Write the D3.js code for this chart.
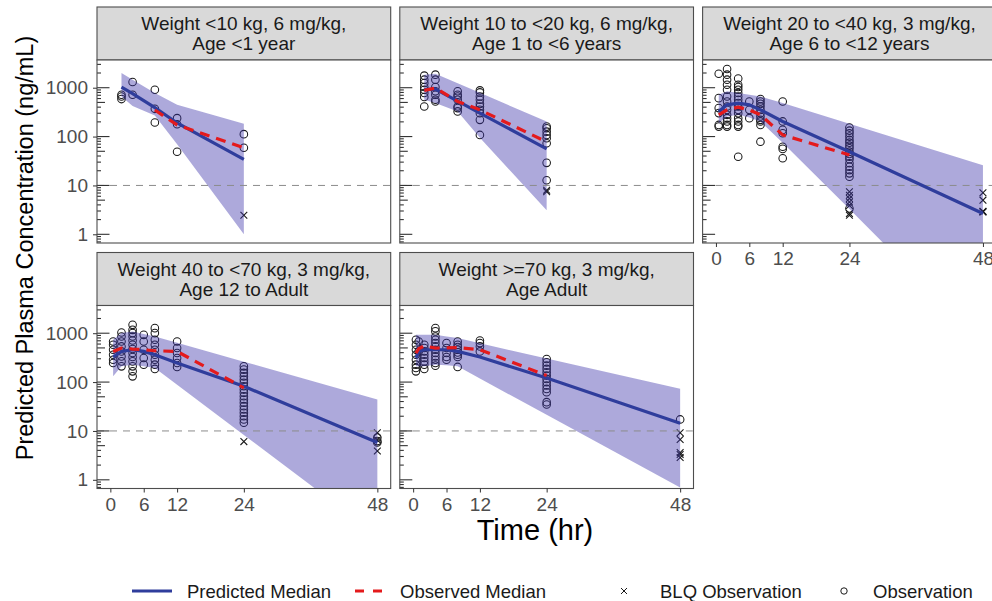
<!DOCTYPE html>
<html><head><meta charset="utf-8">
<script src="https://cdn.jsdelivr.net/npm/d3@7"></script>
<style>
html,body{margin:0;padding:0;background:#fff;}
svg{display:block;font-family:"Liberation Sans",Arial,Helvetica,sans-serif;}
</style></head>
<body><svg id="c" width="992" height="601"></svg>
<script>
// ---- Data ----
const titles = [
  ["Weight <10 kg, 6 mg/kg,", "Age <1 year"],
  ["Weight 10 to <20 kg, 6 mg/kg,", "Age 1 to <6 years"],
  ["Weight 20 to <40 kg, 3 mg/kg,", "Age 6 to <12 years"],
  ["Weight 40 to <70 kg, 3 mg/kg,", "Age 12 to Adult"],
  ["Weight >=70 kg, 3 mg/kg,", "Age Adult"]
];
const xTicks = [0, 6, 12, 24, 48];
const yTicks = [1, 10, 100, 1000];
const blqLimit = 10;
const legendLabels = ["Predicted Median", "Observed Median", "BLQ Observation", "Observation"];
const xTitle = "Time (hr)";
const yTitle = "Predicted Plasma Concentration (ng/mL)";

// predicted: [time, median, lower, upper]
const pred1 = [[2,1030,660,2000],[4,760,420,1460],[8,390,270,780],[12,190,70,447],[24,34,1.0,182]];
const pred2 = [[2,910,566,1850],[4,935,484,1930],[8,532,327,1240],[12,303,95,785],[24,56,3.1,204]];
const pred3 = [[0.5,326,188,718],[2,447,257,845],[4,484,279,778],[6,447,245,720],[8,352,204,662],[12,204,75,487],[24,49,3.28,183],[48,2.66,0.006,26]];
const pred4 = [[0.5,326,131,735],[2,424,210,1004],[4,459,227,1090],[6,424,210,960],[8,363,195,857],[12,246,88,640],[24,82,8.3,262],[48,5.8,0.073,44]];
const pred5 = [[0.5,311,210,927],[1,424,210,927],[2,459,210,927],[4,459,227,927],[6,459,220,860],[8,424,210,795],[12,326,118,620],[24,121,21.4,305],[48,14.3,0.7,73]];

// observed median: [time, value]
const obsMed1 = [[8,350],[12,173],[24,59]];
const obsMed2 = [[2,880],[4,982],[8,523],[12,352],[24,78]];
const obsMed3 = [[0.5,279],[2,352],[4,400],[6,350],[8,279],[12,108],[24,42]];
const obsMed4 = [[0.5,424],[2,497],[4,474],[6,459],[8,437],[12,424],[24,76]];
const obsMed5 = [[0.5,393],[1,480],[2,551],[4,497],[6,500],[8,510],[12,459],[24,136]];

// observations: [time, [values]]
const obs1 = [[2,[718,662,586]],[4,[1309,718]],[8,[910,370,194]],[12,[238,179,49]],[24,[112,59]]];
const obs2 = [[2,[1763,1459,1248,1033,910,778,644,413]],[4,[1850,1459,1033,845,718,566,523]],[8,[845,718,662,566,413,383,327]],[12,[880,800,662,566,467,413,352,301,220,108]],[24,[160,148,126,108,92.5,73,29,12.8]]];
const obs3 = [[0.5,[1930,612,383,302,173,160]],[2,[2420,1850,1459,1147,910,662,523,413,352,279,238,204,173,160]],[4,[1540,1147,1033,910,778,662,566,484,413,352,301,238,204,173,160,38.7]],[6,[523,352,238]],[8,[586,523,467,413,352,301,257,220,204,173,78.6]],[12,[523,204,137,117,62,56,36]],[24,[153,132,117,99.8,85.4,75,65.2,57.6,49.1,44,38.8,34.3,28.4,24.2,20.6,17.7,15.1,3.37]]];
const obs4 = [[0.5,[678,581,459,363,287,246]],[2,[1033,857,678,536,424,335,265,210]],[4,[1483,1172,1004,857,710,581,474,393,326,265,210,166,131]],[6,[927,678,459,311,227]],[8,[1270,1004,735,581,459,363,287,227,186]],[12,[678,497,393,311,246,204]],[24,[210,180,154,131,112,96.4,82,70.3,60.3,51.4,44,37.7,32.1,27.5,23.6,20.1,17.2,14.7]],[48,[7.3,6.2,5.8]]];
const obs5 = [[0.5,[735,581,459,363,287,227,195,166]],[1,[678,424]],[2,[581,497,424,363,311,265,227,186]],[4,[1270,1090,857,735,628,536,459,393,335,287,246,217]],[6,[628,497,393,326,287]],[8,[678,581,521,459,405,363,326,204]],[12,[710,628,536,424]],[24,[297,253,217,186,158,136,116,99,85,72.5,62,38.8,34.8]],[48,[17.2]]];

// BLQ observations: [time, [values]]
const blq1 = [[24,[2.46]]];
const blq2 = [[24,[8,7.4]]];
const blq3 = [[24,[7.4,6.3,5.4,4.6,3.9,2.66,2.46]],[48,[7.1,5.0,2.87,2.9,2.95]]];
const blq4 = [[24,[6.05]],[48,[9.2,6.5,3.9]]];
const blq5 = [[48,[9.2,6.7,3.6,3.3,2.86]]];

const preds = [pred1,pred2,pred3,pred4,pred5];
const obsMeds = [obsMed1,obsMed2,obsMed3,obsMed4,obsMed5];
const obss = [obs1,obs2,obs3,obs4,obs5];
const blqs = [blq1,blq2,blq3,blq4,blq5];

// ---- Drawing ----
const svg = d3.select("#c");
const FONT = "'Liberation Sans',Arial,Helvetica,sans-serif";
const colBlue = "#2f3d9c", colRed = "#e41a1c", ribbonFill = "#3c32aa", ribbonOp = 0.42;
const panelW = 293.7, stripH = 53, plotH = 183;
const flat = arr => arr.flatMap(([t, vs]) => vs.map(v => [t, v]));

titles.forEach((title, i) => {
  const col = i % 3, row = Math.floor(i / 3);
  const left = 97 + col * 302.8;
  const stripTop = 7 + row * 245.5;
  const top = stripTop + stripH;
  const x = d3.scaleLinear().domain([-2.4, 50.4]).range([left, left + panelW]);
  const y = d3.scaleLog().domain([0.664, 3690]).range([top + plotH, top]);
  const g = svg.append("g");
  const clipId = "clip" + i;
  svg.append("clipPath").attr("id", clipId).append("rect")
    .attr("x", left).attr("y", top).attr("width", panelW).attr("height", plotH);

  // strip
  g.append("rect").attr("x", left).attr("y", stripTop).attr("width", panelW).attr("height", stripH)
    .attr("fill", "#d9d9d9").attr("stroke", "#4d4d4d").attr("stroke-width", 1.1);
  title.forEach((line, k) => {
    g.append("text").attr("x", left + panelW / 2).attr("y", stripTop + 23 + k * 20)
      .attr("text-anchor", "middle").attr("font-size", 19).attr("fill", "#1a1a1a").text(line);
  });
  g.append("rect").attr("x", left).attr("y", top).attr("width", panelW).attr("height", plotH).attr("fill", "#fff");

  const pg = g.append("g").attr("clip-path", `url(#${clipId})`);
  // observations
  pg.selectAll("circle.obs").data(flat(obss[i])).join("circle")
    .attr("cx", d => x(d[0])).attr("cy", d => y(d[1])).attr("r", 3.8)
    .attr("fill", "none").attr("stroke", "#1a1a1a").attr("stroke-width", 1.05);
  // BLQ
  const s = 3.4;
  pg.selectAll("path.blq").data(flat(blqs[i])).join("path")
    .attr("d", d => { const cx = x(d[0]), cy = y(d[1]); return `M${cx-s},${cy-s}L${cx+s},${cy+s}M${cx-s},${cy+s}L${cx+s},${cy-s}`; })
    .attr("stroke", "#1a1a1a").attr("stroke-width", 1.1).attr("fill", "none");
  // ribbon
  const area = d3.area().x(d => x(d[0])).y0(d => y(d[2])).y1(d => y(d[3]));
  pg.append("path").attr("d", area(preds[i])).attr("fill", ribbonFill).attr("fill-opacity", ribbonOp);
  // BLQ limit
  pg.append("line").attr("x1", left).attr("x2", left + panelW).attr("y1", y(blqLimit)).attr("y2", y(blqLimit))
    .attr("stroke", "#8c8c8c").attr("stroke-width", 1).attr("stroke-dasharray", "7,6");
  // predicted median
  const line = d3.line().x(d => x(d[0])).y(d => y(d[1]));
  pg.append("path").attr("d", line(preds[i])).attr("fill", "none").attr("stroke", colBlue).attr("stroke-width", 3.2);
  // observed median
  pg.append("path").attr("d", line(obsMeds[i])).attr("fill", "none").attr("stroke", colRed)
    .attr("stroke-width", 3.2).attr("stroke-dasharray", "10,7");

  // log ticks inside the panel
  const [d0, d1] = y.domain();
  const lt = [];
  for (let e = -1; e <= 3; e++) for (let k = 1; k <= 9; k++) {
    const v = k * Math.pow(10, e);
    if (v >= d0 && v <= d1) lt.push([v, k === 1 ? 12.5 : (k === 5 ? 8 : 4)]);
  }
  g.selectAll("line.lt").data(lt).join("line")
    .attr("x1", left).attr("x2", d => left + d[1]).attr("y1", d => y(d[0])).attr("y2", d => y(d[0]))
    .attr("stroke", "#333").attr("stroke-width", 1.1);

  // border
  g.append("rect").attr("x", left).attr("y", top).attr("width", panelW).attr("height", plotH)
    .attr("fill", "none").attr("stroke", "#4d4d4d").attr("stroke-width", 1.1);

  // axes
  if (col === 0) {
    const ya = g.append("g").attr("transform", `translate(${left},0)`)
      .call(d3.axisLeft(y).tickValues(yTicks).tickFormat(d3.format("d")).tickSize(4).tickPadding(5));
    ya.select(".domain").remove();
    ya.selectAll("line").attr("stroke", "#333");
    ya.selectAll("text").attr("font-size", 19).attr("font-family", FONT).attr("fill", "#4d4d4d");
  }
  if (row === 1 || col === 2) {
    const xa = g.append("g").attr("transform", `translate(0,${top + plotH})`)
      .call(d3.axisBottom(x).tickValues(xTicks).tickSize(4).tickPadding(5));
    xa.select(".domain").remove();
    xa.selectAll("line").attr("stroke", "#333");
    xa.selectAll("text").attr("font-size", 19).attr("font-family", FONT).attr("fill", "#4d4d4d");
  }
});

// axis titles
svg.append("text").attr("transform", "translate(33,248) rotate(-90)").attr("text-anchor", "middle")
  .attr("font-size", 23.5).attr("fill", "#000").text(yTitle);
svg.append("text").attr("x", 535).attr("y", 540).attr("text-anchor", "middle")
  .attr("font-size", 29).attr("fill", "#000").text(xTitle);

// legend
const ly = 591;
const lg = svg.append("g").attr("font-size", 18.5).attr("fill", "#1a1a1a");
lg.append("line").attr("x1", 132).attr("x2", 172).attr("y1", ly).attr("y2", ly).attr("stroke", colBlue).attr("stroke-width", 3);
lg.append("text").attr("x", 187).attr("y", ly + 6.5).text(legendLabels[0]);
lg.append("line").attr("x1", 355).attr("x2", 382).attr("y1", ly).attr("y2", ly).attr("stroke", colRed)
  .attr("stroke-width", 3).attr("stroke-dasharray", "9,9");
lg.append("text").attr("x", 400).attr("y", ly + 6.5).text(legendLabels[1]);
lg.append("path").attr("d", `M${624-3},${ly-3}L${624+3},${ly+3}M${624-3},${ly+3}L${624+3},${ly-3}`)
  .attr("stroke", "#1a1a1a").attr("stroke-width", 1);
lg.append("text").attr("x", 660).attr("y", ly + 6.5).text(legendLabels[2]);
lg.append("circle").attr("cx", 844).attr("cy", ly).attr("r", 3.2).attr("fill", "none").attr("stroke", "#1a1a1a").attr("stroke-width", 1);
lg.append("text").attr("x", 873).attr("y", ly + 6.5).text(legendLabels[3]);
</script></body></html>
